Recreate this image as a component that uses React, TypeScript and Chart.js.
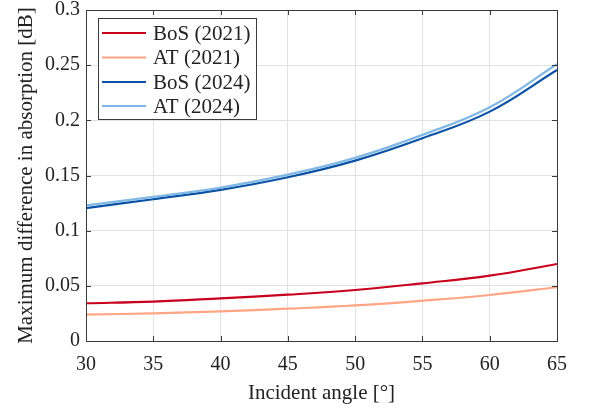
import React, { useEffect, useRef } from "react";
import { Chart, registerables } from "chart.js";

Chart.register(...registerables);

const angles = [30, 35, 40, 45, 50, 55, 60, 65];
const bos2021 = [0.0342, 0.0357, 0.0387, 0.042, 0.0462, 0.0523, 0.0592, 0.0698];
const at2021 = [0.0239, 0.0251, 0.0269, 0.0293, 0.0322, 0.0365, 0.0417, 0.0487];
const bos2024 = [0.1205, 0.1285, 0.137, 0.1484, 0.1635, 0.1838, 0.2079, 0.2457];
const at2024 = [0.123, 0.1306, 0.139, 0.1508, 0.166, 0.1868, 0.2119, 0.2509];
const seriesLabels = ["BoS (2021)", "AT (2021)", "BoS (2024)", "AT (2024)"];
const seriesColors = ["#C8001E", "#FFA584", "#0A52A5", "#80B8E4"];
const xTicks = [30, 35, 40, 45, 50, 55, 60, 65];
const yTicks = [0, 0.05, 0.1, 0.15, 0.2, 0.25, 0.3];
const xTitle = "Incident angle [°]";
const yTitle = "Maximum difference in absorption [dB]";

const FONT = '"Liberation Serif", "Times New Roman", serif';
const TEXT = "#222222";
const AXIS = "#3a3a3a";

const frame = {
  id: "frame",
  afterDraw(chart: any) {
    const { ctx, chartArea: a, scales } = chart;
    ctx.save();
    ctx.strokeStyle = AXIS;
    ctx.lineWidth = 1;
    ctx.strokeRect(Math.round(a.left) + 0.5, Math.round(a.top) + 0.5, Math.round(a.right - a.left), Math.round(a.bottom - a.top));
    const tl = 5;
    ctx.beginPath();
    xTicks.forEach((v) => {
      const x = Math.round(scales.x.getPixelForValue(v)) + 0.5;
      ctx.moveTo(x, a.bottom);
      ctx.lineTo(x, a.bottom - tl);
      ctx.moveTo(x, a.top);
      ctx.lineTo(x, a.top + tl);
    });
    yTicks.forEach((v) => {
      const y = Math.round(scales.y.getPixelForValue(v)) + 0.5;
      ctx.moveTo(a.left, y);
      ctx.lineTo(a.left + tl, y);
      ctx.moveTo(a.right, y);
      ctx.lineTo(a.right - tl, y);
    });
    ctx.stroke();

    const lx = 98, ly = 18, lw = 158, lh = 101;
    ctx.fillStyle = "#ffffff";
    ctx.fillRect(lx, ly, lw, lh);
    ctx.strokeStyle = AXIS;
    ctx.strokeRect(lx + 0.5, ly + 0.5, lw, lh);
    const rows = [33, 57.5, 82, 106];
    ctx.font = `21px ${FONT}`;
    ctx.textBaseline = "middle";
    ctx.textAlign = "left";
    seriesLabels.forEach((lab, i) => {
      ctx.strokeStyle = seriesColors[i];
      ctx.lineWidth = 2.2;
      ctx.beginPath();
      ctx.moveTo(102, rows[i]);
      ctx.lineTo(146, rows[i]);
      ctx.stroke();
      ctx.fillStyle = TEXT;
      ctx.fillText(lab, 153, rows[i] + 1);
    });
    ctx.restore();
  },
};

export default function App() {
  const ref = useRef<HTMLCanvasElement>(null);
  useEffect(() => {
    document.body.style.margin = "0";
    const series = [bos2021, at2021, bos2024, at2024];
    const chart = new Chart(ref.current!, {
      type: "line",
      data: {
        labels: angles,
        datasets: series.map((s, i) => ({
          label: seriesLabels[i],
          data: angles.map((a, j) => ({ x: a, y: s[j] })),
          borderColor: seriesColors[i],
          backgroundColor: seriesColors[i],
          borderWidth: 2.2,
          pointRadius: 0,
          tension: 0.4,
          fill: false,
          order: 3 - i,
        })),
      },
      options: {
        animation: false,
        responsive: false,
        events: [],
        layout: { padding: { left: 0, right: 32, top: 10, bottom: 0 } },
        plugins: { legend: { display: false }, tooltip: { enabled: false } },
        scales: {
          x: {
            type: "linear",
            min: 30,
            max: 65,
            afterFit: (s: any) => {
              s.height = 71;
              s.paddingLeft = 0;
              s.paddingRight = 0;
              s.paddingTop = 0;
              s.paddingBottom = 0;
            },
            afterBuildTicks: (s: any) => {
              s.ticks = xTicks.map((v) => ({ value: v }));
            },
            ticks: {
              color: TEXT,
              font: { family: FONT, size: 20 },
              padding: 12,
              maxRotation: 0,
              callback: (v: any) => String(v),
            },
            grid: { color: "#e2e2e2", drawTicks: false, lineWidth: 1 },
            border: { display: false },
            title: {
              display: true,
              text: xTitle,
              color: TEXT,
              font: { family: FONT, size: 21 },
              padding: { top: 0, bottom: 6 },
            },
          },
          y: {
            type: "linear",
            min: 0,
            max: 0.3,
            afterFit: (s: any) => {
              s.width = 86;
              s.paddingLeft = 0;
              s.paddingRight = 0;
              s.paddingTop = 0;
              s.paddingBottom = 0;
            },
            afterBuildTicks: (s: any) => {
              s.ticks = yTicks.map((v) => ({ value: v }));
            },
            ticks: {
              color: TEXT,
              font: { family: FONT, size: 20 },
              padding: 6,
              callback: (v: any) => String(parseFloat(Number(v).toFixed(2))),
            },
            grid: { color: "#e2e2e2", drawTicks: false, lineWidth: 1 },
            border: { display: false },
            title: {
              display: true,
              text: yTitle,
              color: TEXT,
              font: { family: FONT, size: 21 },
              padding: { top: 14, bottom: 0 },
            },
          },
        },
      },
      plugins: [frame],
    });
    return () => chart.destroy();
  }, []);
  return <canvas ref={ref} width={589} height={412} />;
}
